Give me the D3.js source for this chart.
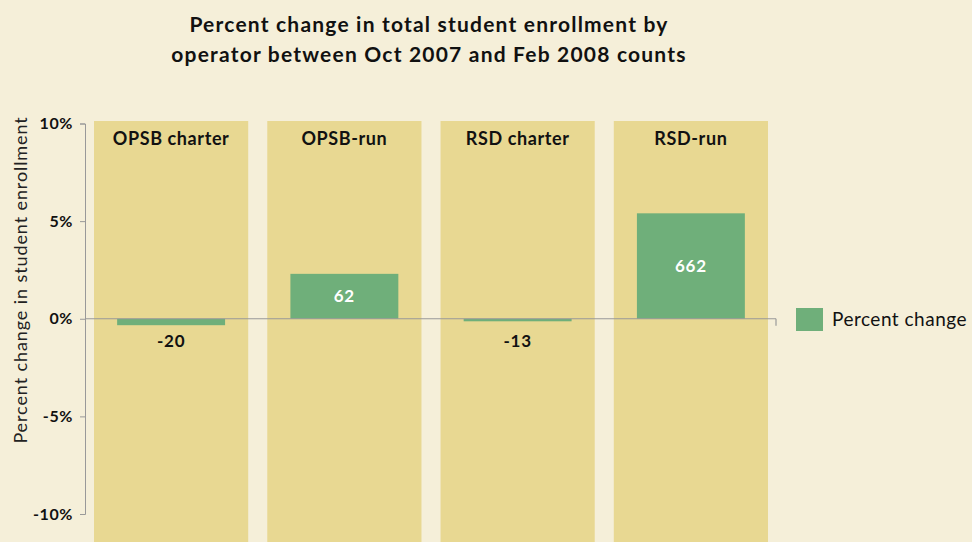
<!DOCTYPE html>
<html>
<head>
<meta charset="utf-8">
<script src="https://cdn.jsdelivr.net/npm/d3@7"></script>
<style>
  html, body { margin: 0; padding: 0; background: #f5efd9; }
  svg { display: block; font-family: "Lato", "Open Sans", sans-serif; }
</style>
</head>
<body>
<div id="chart"></div>
<script>
const categories = ["OPSB charter", "OPSB-run", "RSD charter", "RSD-run"];
const percentChange = [-0.33, 2.3, -0.13, 5.4];
const countLabels = ["-20", "62", "-13", "662"];
const yTicks = [-10, -5, 0, 5, 10];

const width = 972, height = 542;

const svg = d3.select("#chart").append("svg")
    .attr("width", width)
    .attr("height", height);

svg.append("rect")
    .attr("width", width)
    .attr("height", height)
    .attr("fill", "#f5efd9");

const x = d3.scaleBand()
    .domain(categories)
    .range([85, 777])
    .paddingInner(0.11)
    .paddingOuter(0.052);

const y = d3.scaleLinear()
    .domain([-10, 10])
    .range([514, 123.5]);

// panel backgrounds
svg.append("g")
    .selectAll("rect")
    .data(categories)
    .join("rect")
    .attr("x", d => x(d))
    .attr("y", 121)
    .attr("width", x.bandwidth())
    .attr("height", height - 121)
    .attr("fill", "#e8d892");

// panel titles
svg.append("g")
    .selectAll("text")
    .data(categories)
    .join("text")
    .attr("x", d => x(d) + x.bandwidth() / 2)
    .attr("y", 145)
    .attr("text-anchor", "middle")
    .attr("font-size", 18)
    .attr("letter-spacing", 0.6)
    .attr("font-weight", "bold")
    .attr("fill", "#111")
    .text(d => d);

// bars
const barW = x.bandwidth() * 0.7;
const data = categories.map((c, i) => ({cat: c, v: percentChange[i], label: countLabels[i]}));

svg.append("g")
    .selectAll("rect")
    .data(data)
    .join("rect")
    .attr("x", d => x(d.cat) + (x.bandwidth() - barW) / 2)
    .attr("y", d => y(Math.max(0, d.v)))
    .attr("width", barW)
    .attr("height", d => Math.abs(y(d.v) - y(0)))
    .attr("fill", "#6faf7a");

// zero line
svg.append("line")
    .attr("x1", 85).attr("x2", 776)
    .attr("y1", y(0)).attr("y2", y(0))
    .attr("stroke", "#999").attr("stroke-width", 1.2);
svg.append("line")
    .attr("x1", 776).attr("x2", 776)
    .attr("y1", y(0)).attr("y2", y(0) + 7)
    .attr("stroke", "#999").attr("stroke-width", 1.2);

// bar labels
svg.append("g")
    .selectAll("text")
    .data(data)
    .join("text")
    .attr("x", d => x(d.cat) + x.bandwidth() / 2)
    .attr("y", d => d.v < 0 ? y(0) + 28 : (y(d.v) + y(0)) / 2 + 6)
    .attr("text-anchor", "middle")
    .attr("font-size", 17)
    .attr("letter-spacing", 0.8)
    .attr("font-weight", "bold")
    .attr("fill", d => d.v < 0 ? "#111" : "#fff")
    .text(d => d.label);

// y axis
const yAxis = svg.append("g")
    .attr("transform", "translate(85,0)")
    .call(d3.axisLeft(y).tickValues(yTicks).tickSize(5).tickSizeOuter(5)
        .tickFormat(d => d + "%"));
yAxis.select(".domain").attr("stroke", "#999");
yAxis.selectAll(".tick line").attr("stroke", "#999");
yAxis.selectAll(".tick text")
    .attr("x", -12)
    .attr("font-size", 16)
    .attr("letter-spacing", 0.6)
    .attr("font-weight", "bold")
    .attr("fill", "#111")
    .attr("font-family", "Lato, sans-serif");

svg.append("text")
    .attr("transform", "translate(27," + 280 + ") rotate(-90)")
    .attr("text-anchor", "middle")
    .attr("font-size", 18)
    .attr("letter-spacing", 0.9)
    .attr("fill", "#222")
    .text("Percent change in student enrollment");

// title
const title = svg.append("text")
    .attr("text-anchor", "middle")
    .attr("font-size", 21)
    .attr("letter-spacing", 1.2)
    .attr("font-weight", "bold")
    .attr("fill", "#111");
title.append("tspan").attr("x", 429).attr("y", 32).text("Percent change in total student enrollment by");
title.append("tspan").attr("x", 429).attr("y", 62).text("operator between Oct 2007 and Feb 2008 counts");

// legend
svg.append("rect")
    .attr("x", 796).attr("y", 308)
    .attr("width", 27).attr("height", 23)
    .attr("fill", "#6faf7a");
svg.append("text")
    .attr("x", 832).attr("y", 326)
    .attr("font-size", 19)
    .attr("letter-spacing", 0.5)
    .attr("fill", "#111")
    .text("Percent change");
</script>
</body>
</html>
